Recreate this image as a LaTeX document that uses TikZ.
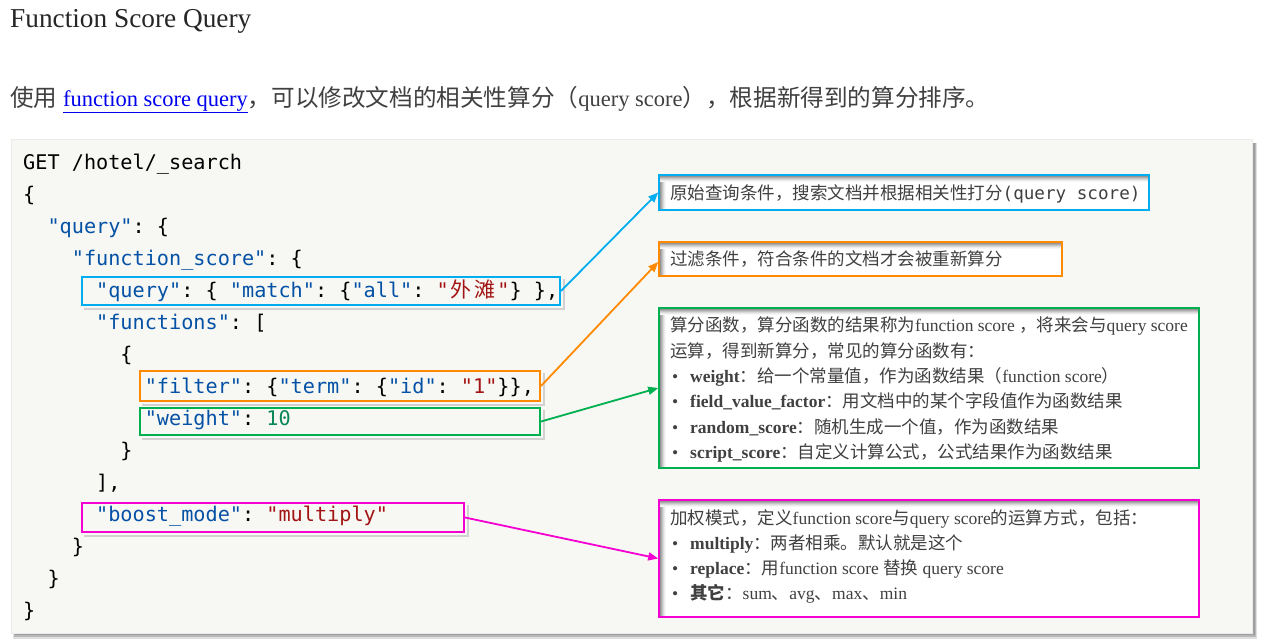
\documentclass[tikz,border=0pt]{standalone}
\usepackage{fontspec}
\setmainfont{Liberation Serif}
\newfontfamily\cjk{Noto Sans CJK SC}
\newfontfamily\codefont{DejaVu Sans Mono}
\usetikzlibrary{arrows.meta}
\definecolor{panelbg}{HTML}{F7F8F4}
\definecolor{kblue}{HTML}{0451A5}
\definecolor{sred}{HTML}{A31515}
\definecolor{ngreen}{HTML}{098658}
\definecolor{ccyan}{HTML}{00AEEF}
\definecolor{corange}{HTML}{FF8A00}
\definecolor{cgreen}{HTML}{00B050}
\definecolor{cmag}{HTML}{F500D2}
\definecolor{txt}{HTML}{404040}
\definecolor{linkblue}{HTML}{0000EE}
\newcommand\ck[1]{\textcolor{kblue}{#1}}
\newcommand\cs[1]{\textcolor{sred}{#1}}
\newcommand\cn[1]{\textcolor{ngreen}{#1}}
\newcommand\zh[1]{{\cjk #1}}
\newcommand\zhp[1]{{\cjk\fontsize{23.6}{26}\selectfont #1}}
\newcommand\us{\char95\relax}
\newcommand\bul{\makebox[20pt][l]{\hspace{2pt}•}}
\newcommand\zhc[1]{\makebox[24.3pt]{\cjk\fontsize{21}{21}\selectfont #1}}
\newcommand\cl[3]{\node[codeline] (l#1) at ({23+12.16*#2}, {169+32.07*(#1-1)}) {#3};}
\tikzset{
  codeline/.style={anchor=base west, inner sep=0pt, font=\codefont\fontsize{20.2}{24}\selectfont\frenchspacing},
  hbox/.style={draw=#1, line width=2pt, inner sep=0pt},
  annbox/.style={draw=#1, line width=1.6pt, fill=white, inner sep=0pt,
    path picture={
      \foreach \i/\c in {1.2/42,2.2/32,3.2/23,4.2/15,5.2/8,6.2/3}{
        \draw[black!\c, line width=1pt] ([yshift=-\i pt]path picture bounding box.north west) -- ([yshift=-\i pt]path picture bounding box.north east);
        \draw[black!\c, line width=1pt] ([xshift=\i pt, yshift=-\i pt]path picture bounding box.north west) -- ([xshift=\i pt]path picture bounding box.south west);
      }
    }},
  anntext/.style={anchor=base west, inner sep=0pt, text=txt, font=\fontsize{17.5}{20}\selectfont},
  arr/.style={line width=1.8pt, -{Triangle[length=10pt,width=8pt]}},
  hshadow/.style={draw=black!18, line width=2pt}
}
\begin{document}
\begin{tikzpicture}[x=1pt,y=-1pt]
\useasboundingbox (0,0) rectangle (1267,643);
\fill[white] (0,0) rectangle (1267,643);

% title and intro
\node[anchor=base west, inner sep=0pt, text=black!85, font=\fontsize{27.3}{30}\selectfont] (title) at (10,27) {Function Score Query};
\node[anchor=base west, inner sep=0pt, text=txt, font=\fontsize{22.5}{26}\selectfont] (para) at (10,106)
  {\zhp{使用} \textcolor{linkblue}{\underline{function score query}}\zhp{，可以修改文档的相关性算分（}query score\zhp{），根据新得到的算分排序。}};

% panel
\fill[black!12] (13,143) rectangle (1257,639);
\fill[black!28] (14,143) rectangle (1256,637);
\fill[black!38] (15,143) rectangle (1255,635);
\fill[panelbg, draw=black!8] (11,139) rectangle (1252,633);

% code
\cl{1}{0}{GET /hotel/\us search}
\cl{2}{0}{\{}
\cl{3}{2}{\ck{"query"}: \{}
\cl{4}{4}{\ck{"function\us score"}: \{}
\cl{5}{6}{\ck{"query"}: \{ \ck{"match"}: \{\ck{"all"}: \cs{"\zhc{外}\zhc{滩}"}\} \},}
\cl{6}{6}{\ck{"functions"}: [}
\cl{7}{8}{\{}
\cl{8}{10}{\ck{"filter"}: \{\ck{"term"}: \{\ck{"id"}: \cs{"1"}\}\},}
\cl{9}{10}{\ck{"weight"}: \cn{10}}
\cl{10}{8}{\}}
\cl{11}{6}{],}
\cl{12}{6}{\ck{"boost\us mode"}: \cs{"multiply"}}
\cl{13}{4}{\}}
\cl{14}{2}{\}}
\cl{15}{0}{\}}

% highlight boxes in code
\node[hbox=ccyan, minimum width=478pt, minimum height=28pt] (qbox) at (321,291) {};
\node[hbox=corange, minimum width=400pt, minimum height=30pt] (fbox) at (340,386) {};
\node[hbox=cgreen, minimum width=400pt, minimum height=27pt] (wbox) at (340,421.5) {};
\node[hbox=cmag, minimum width=382pt, minimum height=29pt] (bbox) at (273,517.5) {};
\foreach \b in {qbox,fbox,wbox,bbox}{
  \draw[hshadow] ([xshift=2.5pt,yshift=-3pt]\b.north east) -- ([xshift=2.5pt,yshift=-2.5pt]\b.south east) -- ([xshift=3pt,yshift=-2.5pt]\b.south west);
}

% annotation boxes
\node[annbox=ccyan, minimum width=490pt, minimum height=35pt] (a1) at (904,192.5) {};
\node[annbox=corange, minimum width=403pt, minimum height=34pt] (a2) at (860.5,259) {};
\node[annbox=cgreen, minimum width=540pt, minimum height=160pt] (a3) at (929,388) {};
\node[annbox=cmag, minimum width=540pt, minimum height=117pt] (a4) at (929,558.5) {};

\node[anntext] (t1) at (670,199.5) {\zh{原始查询条件，搜索文档并根据相关性打分}{\codefont\fontsize{17.6}{20}\selectfont(query score)}};
\node[anntext] (t2) at (670,265.5) {\zh{过滤条件，符合条件的文档才会被重新算分}};

\node[anntext] (g1) at (670,331.5) {\zh{算分函数，算分函数的结果称为}function score \zh{，将来会与}query score};
\node[anntext] (g2) at (670,357) {\zh{运算，得到新算分，常见的算分函数有：}};
\node[anntext] (g3) at (670,382.5) {\bul\textbf{weight}\zh{：给一个常量值，作为函数结果（}function score\zh{）}};
\node[anntext] (g4) at (670,407.5) {\bul\textbf{field\us value\us factor}\zh{：用文档中的某个字段值作为函数结果}};
\node[anntext] (g5) at (670,433) {\bul\textbf{random\us score}\zh{：随机生成一个值，作为函数结果}};
\node[anntext] (g6) at (670,458) {\bul\textbf{script\us score}\zh{：自定义计算公式，公式结果作为函数结果}};

\node[anntext] (m1) at (670,524) {\zh{加权模式，定义}function score\zh{与}query score\zh{的运算方式，包括：}};
\node[anntext] (m2) at (670,549) {\bul\textbf{multiply}\zh{：两者相乘。默认就是这个}};
\node[anntext] (m3) at (670,574) {\bul\textbf{replace}\zh{：用}function score \zh{替换} query score};
\node[anntext] (m4) at (670,599) {\bul{\cjk\bfseries 其它}\zh{：}sum\zh{、}avg\zh{、}max\zh{、}min};

% arrows
\draw[arr, ccyan] (qbox.east) -- (a1.west);
\draw[arr, corange] (fbox.east) -- ([yshift=-3pt]a2.west);
\draw[arr, cgreen] (wbox.east) -- (a3.west);
\draw[arr, cmag] (bbox.east) -- (a4.west);
\end{tikzpicture}
\end{document}
